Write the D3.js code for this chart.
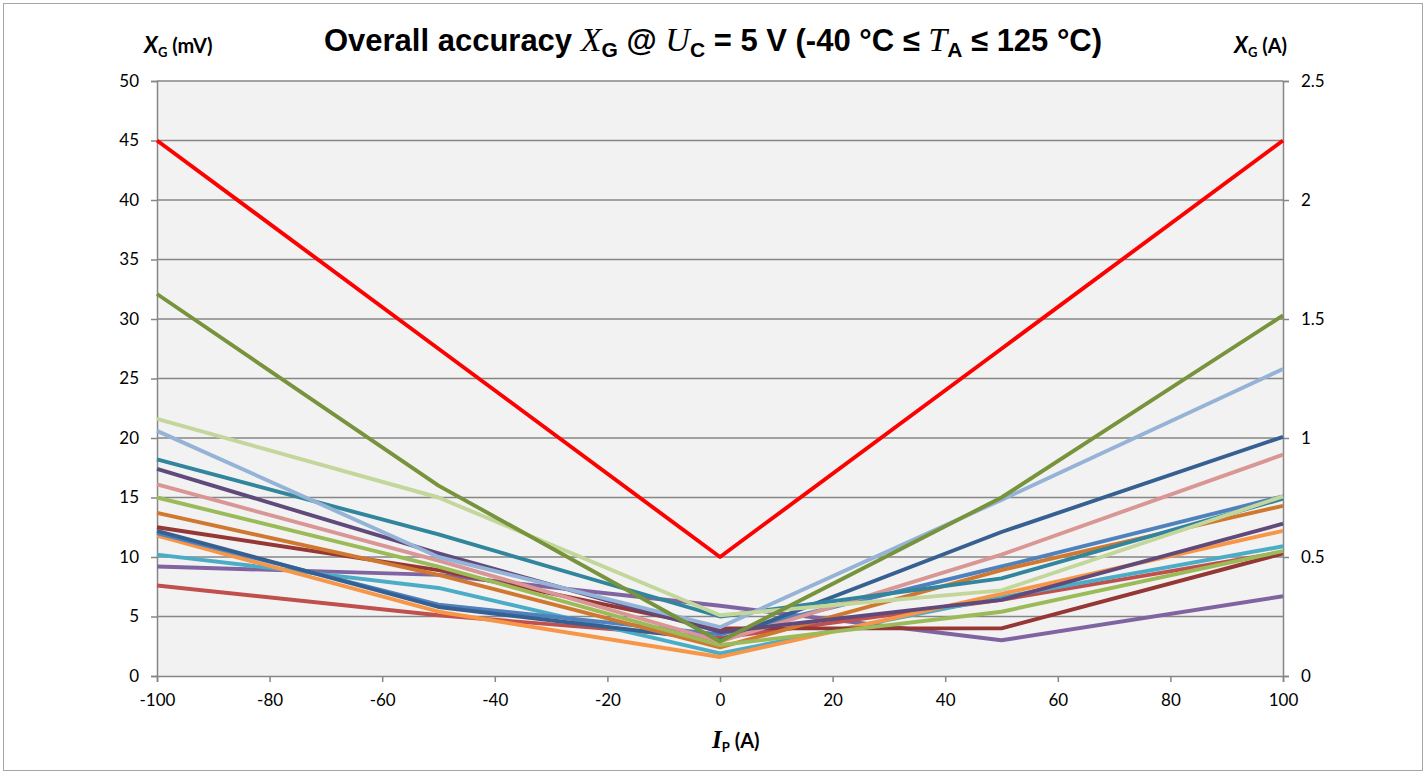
<!DOCTYPE html>
<html>
<head>
<meta charset="utf-8">
<script src="https://cdn.jsdelivr.net/npm/d3@7"></script>
<style>
  body { margin: 0; background: #fff; }
  svg { display: block; }
  .tick text { font-family: Lato, "Liberation Sans", sans-serif; font-size: 17px; fill: #000; }
  .tick line { stroke: #868686; }
  .domain { stroke: #868686; }
</style>
</head>
<body>
<svg id="chart" width="1426" height="772"></svg>
<script>
// current values along the x axis (A)
var currents = [-100, -50, 0, 50, 100]

// X_G in mV for each curve
var limit      = [45, 27.5, 10, 27.5, 45]
var olive      = [32.1, 16.0, 2.9, 15.0, 30.3]
var lightGreen = [21.6, 15.0, 5.1, 7.2, 15.1]
var lightBlue  = [20.6, 10.0, 4.1, 14.8, 25.8]
var teal       = [18.2, 11.9, 5.0, 8.2, 14.9]
var darkPurple = [17.4, 10.3, 3.7, 6.4, 12.8]
var pink       = [16.1, 9.7, 2.9, 10.2, 18.6]
var green      = [15.0, 9.2, 2.6, 5.4, 10.5]
var brown      = [13.7, 8.5, 2.4, 8.9, 14.3]
var darkRed    = [12.5, 8.9, 4.0, 4.0, 10.3]
var darkBlue   = [12.2, 5.8, 3.0, 12.1, 20.1]
var blue       = [12.0, 6.0, 3.5, 9.2, 15.1]
var orange     = [11.8, 5.4, 1.6, 6.9, 12.2]
var cyan       = [10.2, 7.4, 1.9, 6.6, 10.9]
var purple     = [9.2, 8.5, 5.9, 3.0, 6.7]
var redMid     = [7.6, 5.1, 3.2, 6.4, 10.4]

var leftTicks = [0, 5, 10, 15, 20, 25, 30, 35, 40, 45, 50]
var rightTicks = [0, 0.5, 1, 1.5, 2, 2.5]
var bottomTicks = [-100, -80, -60, -40, -20, 0, 20, 40, 60, 80, 100]

var series = [
  {name: "purple", v: purple, c: "#8064A2"},
  {name: "redMid", v: redMid, c: "#C0504D"},
  {name: "cyan", v: cyan, c: "#4BACC6"},
  {name: "orange", v: orange, c: "#F79646"},
  {name: "blue", v: blue, c: "#4F81BD"},
  {name: "darkBlue", v: darkBlue, c: "#376092"},
  {name: "darkRed", v: darkRed, c: "#953735"},
  {name: "brown", v: brown, c: "#D0782F"},
  {name: "green", v: green, c: "#9BBB59"},
  {name: "pink", v: pink, c: "#D99694"},
  {name: "darkPurple", v: darkPurple, c: "#604A7B"},
  {name: "teal", v: teal, c: "#31859C"},
  {name: "lightBlue", v: lightBlue, c: "#95B3D7"},
  {name: "lightGreen", v: lightGreen, c: "#C3D69B"},
  {name: "olive", v: olive, c: "#77933C"},
  {name: "limit", v: limit, c: "#FF0000"}
]

var svg = d3.select("#chart")
var margin = {left: 157, right: 143, top: 81, bottom: 96}
var W = 1426, H = 772

// outer border
svg.append("rect")
  .attr("x", 3.5).attr("y", 3.5)
  .attr("width", W - 7).attr("height", H - 5)
  .attr("fill", "#fff").attr("stroke", "#a6a6a6")

var x = d3.scaleLinear().domain([-100, 100]).range([margin.left, W - margin.right])
var y = d3.scaleLinear().domain([0, 50]).range([H - margin.bottom, margin.top])
var y2 = d3.scaleLinear().domain([0, 2.5]).range([H - margin.bottom, margin.top])

svg.append("rect")
  .attr("x", x(-100)).attr("y", y(50))
  .attr("width", x(100) - x(-100)).attr("height", y(0) - y(50))
  .attr("fill", "#F2F2F2")

// gridlines
svg.append("g")
  .selectAll("line")
  .data(leftTicks.filter(function(d) { return d > 0 }))
  .enter().append("line")
  .attr("x1", x(-100)).attr("x2", x(100))
  .attr("y1", function(d) { return y(d) }).attr("y2", function(d) { return y(d) })
  .attr("stroke", "#868686").attr("stroke-width", 1.5)

svg.append("g")
  .attr("transform", "translate(" + x(-100) + ",0)")
  .call(d3.axisLeft(y).tickValues(leftTicks).tickSize(6).tickPadding(12))
  .call(function(g) { g.selectAll("line, path").attr("stroke-width", 1.5) })

svg.append("g")
  .attr("transform", "translate(" + x(100) + ",0)")
  .call(d3.axisRight(y2).tickValues(rightTicks).tickSize(6).tickPadding(12)
    .tickFormat(function(d) { return String(d) }))
  .call(function(g) { g.selectAll("line, path").attr("stroke-width", 1.5) })

svg.append("g")
  .attr("transform", "translate(0," + y(0) + ")")
  .call(d3.axisBottom(x).tickValues(bottomTicks).tickSize(6).tickPadding(12)
    .tickFormat(function(d) { return String(d) }))
  .call(function(g) { g.selectAll("line, path").attr("stroke-width", 1.5) })

var line = d3.line()
  .x(function(d, i) { return x(currents[i]) })
  .y(function(d) { return y(d) })

svg.append("g")
  .selectAll("path")
  .data(series)
  .enter().append("path")
  .attr("d", function(s) { return line(s.v) })
  .attr("fill", "none")
  .attr("stroke", function(s) { return s.c })
  .attr("stroke-width", 3.9)
  .attr("stroke-linejoin", "round")

// title
var sans = "'Liberation Sans', Arial, sans-serif"
var serif = "'Liberation Serif', 'Times New Roman', serif"
var title = svg.append("text")
  .attr("x", 713).attr("y", 51)
  .attr("text-anchor", "middle")
  .attr("font-family", sans).attr("font-weight", "bold").attr("font-size", 31)
title.append("tspan").text("Overall accuracy ")
title.append("tspan").attr("font-family", serif).attr("font-style", "italic").attr("font-weight", "normal").attr("font-size", 34).text("X")
title.append("tspan").attr("font-size", 21).attr("dy", 6).text("G")
title.append("tspan").attr("dy", -6).text(" @ ")
title.append("tspan").attr("font-family", serif).attr("font-style", "italic").attr("font-weight", "normal").attr("font-size", 34).text("U")
title.append("tspan").attr("font-size", 21).attr("dy", 6).text("C")
title.append("tspan").attr("dy", -6).text(" = 5 V (-40 °C ≤ ")
title.append("tspan").attr("font-family", serif).attr("font-style", "italic").attr("font-weight", "normal").attr("font-size", 34).text("T")
title.append("tspan").attr("font-size", 21).attr("dy", 6).text("A")
title.append("tspan").attr("dy", -6).text(" ≤ 125 °C)")

function axisTitle(px, py, main, sub, rest, mainFont, mainSize) {
  var t = svg.append("text")
    .attr("x", px).attr("y", py)
    .attr("font-family", "Lato, 'Liberation Sans', sans-serif")
    .attr("font-weight", "bold").attr("font-size", 20)
  t.append("tspan").attr("font-style", "italic").attr("font-family", mainFont).attr("font-size", mainSize).text(main)
  t.append("tspan").attr("font-size", 13).attr("dy", 4).text(sub)
  t.append("tspan").attr("dy", -4).text(rest)
  return t
}
axisTitle(144, 53, "X", "G", " (mV)", "Lato, sans-serif", 22)
axisTitle(1234, 53, "X", "G", " (A)", "Lato, sans-serif", 22)
axisTitle(712, 748, "I", "P", " (A)", serif, 25)
</script>
</body>
</html>
